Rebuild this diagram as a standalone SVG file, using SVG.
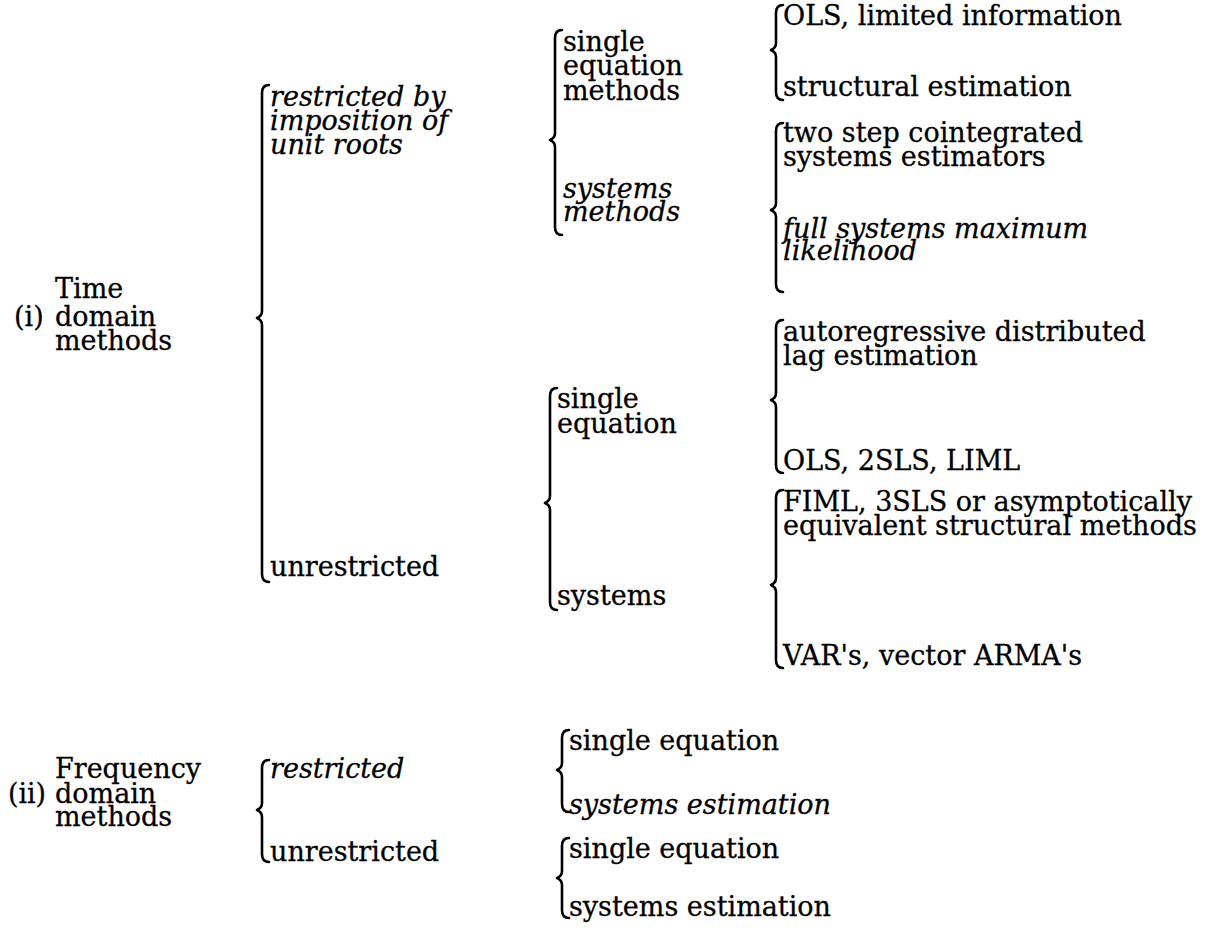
<svg xmlns="http://www.w3.org/2000/svg" width="1231" height="942" viewBox="0 0 1231 942">
<style>
  text { font-family: "DejaVu Serif", "Liberation Serif", serif; font-size: 27px; fill: #000; stroke: #000; stroke-width: 0.3; }
  .it { font-style: italic; }
  .brace { fill: none; stroke: #000; stroke-width: 2.6; stroke-linecap: round; stroke-linejoin: round; }
</style>
<rect width="1231" height="942" fill="#fff"/>
<g id="connectors">
  <path class="brace" d="M269,85 q-7,0 -7,8 V311 q0,5 -5,7 q5,2 5,7 V574 q0,8 7,8"/>
  <path class="brace" d="M562,30 q-7,0 -7,8 V133 q0,5 -5,7 q5,2 5,7 V227 q0,8 7,8"/>
  <path class="brace" d="M783,5 q-7,0 -7,8 V43 q0,5 -5,7 q5,2 5,7 V92 q0,8 7,8"/>
  <path class="brace" d="M783,123 q-7,0 -7,8 V203 q0,5 -5,7 q5,2 5,7 V284 q0,8 7,8"/>
  <path class="brace" d="M557,388 q-7,0 -7,8 V496 q0,5 -5,7 q5,2 5,7 V602 q0,8 7,8"/>
  <path class="brace" d="M783,320 q-7,0 -7,8 V393 q0,5 -5,7 q5,2 5,7 V465 q0,8 7,8"/>
  <path class="brace" d="M783,490 q-7,0 -7,8 V578 q0,5 -5,7 q5,2 5,7 V660 q0,8 7,8"/>
  <path class="brace" d="M269,760 q-7,0 -7,8 V803 q0,5 -5,7 q5,2 5,7 V854 q0,8 7,8"/>
  <path class="brace" d="M569,730 q-7,0 -7,8 V763 q0,5 -5,7 q5,2 5,7 V804 q0,8 7,8"/>
  <path class="brace" d="M569,838 q-7,0 -7,8 V871 q0,5 -5,7 q5,2 5,7 V910 q0,8 7,8"/>
</g>
<g id="time-domain">
  <text x="55" y="298">Time</text>
  <text x="14" y="326">(i)</text>
  <text x="55" y="326">domain</text>
  <text x="55" y="350">methods</text>
</g>
<g id="restricted-unit-roots">
  <text class="it" x="270" y="106">restricted by</text>
  <text class="it" x="270" y="130">imposition of</text>
  <text class="it" x="270" y="154">unit roots</text>
</g>
<g id="unrestricted-time">
  <text x="270" y="576">unrestricted</text>
</g>
<g id="single-equation-methods">
  <text x="563" y="51">single</text>
  <text x="563" y="75">equation</text>
  <text x="563" y="100">methods</text>
</g>
<g id="systems-methods">
  <text class="it" x="563" y="198">systems</text>
  <text class="it" x="563" y="221">methods</text>
</g>
<g id="ols-limited">
  <text x="783" y="25">OLS, limited information</text>
</g>
<g id="structural-estimation">
  <text x="783" y="96">structural estimation</text>
</g>
<g id="two-step">
  <text x="783" y="142">two step cointegrated</text>
  <text x="783" y="166">systems estimators</text>
</g>
<g id="full-systems-ml">
  <text class="it" x="783" y="238">full systems maximum</text>
  <text class="it" x="783" y="260">likelihood</text>
</g>
<g id="single-equation-unrestricted">
  <text x="557" y="408">single</text>
  <text x="557" y="433">equation</text>
</g>
<g id="systems-unrestricted">
  <text x="557" y="605">systems</text>
</g>
<g id="ardl">
  <text x="783" y="341">autoregressive distributed</text>
  <text x="783" y="365">lag estimation</text>
</g>
<g id="ols-2sls-liml">
  <text x="783" y="470">OLS, 2SLS, LIML</text>
</g>
<g id="fiml">
  <text x="783" y="511">FIML, 3SLS or asymptotically</text>
  <text x="783" y="535">equivalent structural methods</text>
</g>
<g id="var">
  <text x="783" y="665">VAR's, vector ARMA's</text>
</g>
<g id="frequency-domain">
  <text x="55" y="778">Frequency</text>
  <text x="8" y="803" textLength="38" lengthAdjust="spacingAndGlyphs">(ii)</text>
  <text x="55" y="803">domain</text>
  <text x="55" y="826">methods</text>
</g>
<g id="restricted-freq">
  <text class="it" x="270" y="778">restricted</text>
</g>
<g id="unrestricted-freq">
  <text x="270" y="861">unrestricted</text>
</g>
<g id="freq-restricted-single">
  <text x="569" y="750">single equation</text>
</g>
<g id="freq-restricted-systems">
  <text class="it" x="569" y="814">systems estimation</text>
</g>
<g id="freq-unrestricted-single">
  <text x="569" y="858">single equation</text>
</g>
<g id="freq-unrestricted-systems">
  <text x="569" y="916">systems estimation</text>
</g>
</svg>
